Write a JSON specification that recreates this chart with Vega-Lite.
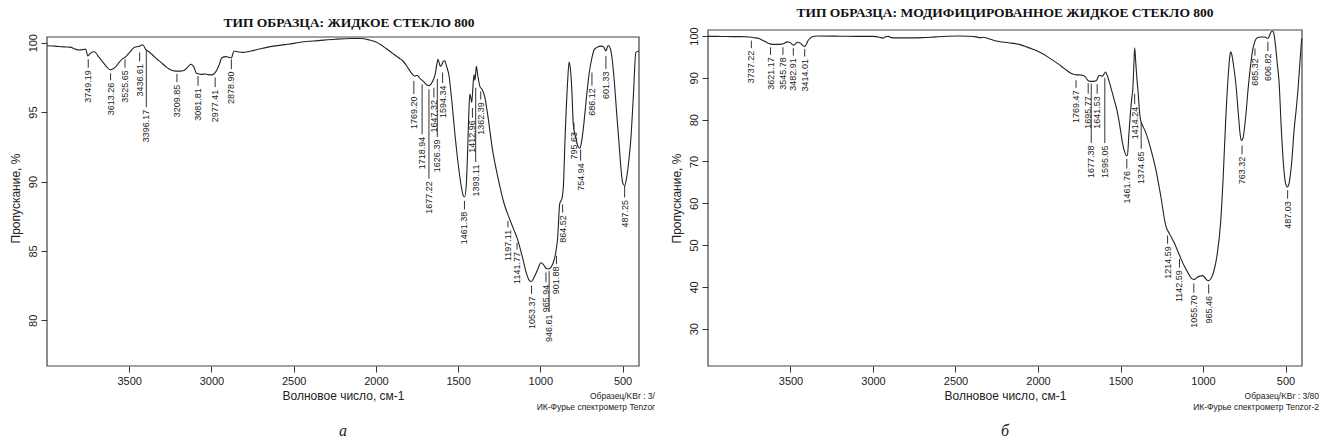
{
  "$schema": "https://vega.github.io/schema/vega-lite/v6.json",
  "background": "white",
  "padding": {"left": 9, "top": 6, "right": 0, "bottom": 0},
  "bounds": "flush",
  "spacing": 69,
  "config": {
    "view": {"stroke": null},
    "font": "Liberation Sans",
    "numberFormat": "d",
    "axis": {"grid": false, "domain": false, "tickColor": "#333", "tickSize": 6, "labelColor": "#222", "titleColor": "#222", "labelFont": "Liberation Sans", "titleFont": "Liberation Sans", "labelFontSize": 11, "titleFontSize": 12, "titleFontWeight": "normal"},
    "axisX": {"labelPadding": 3, "titlePadding": 4},
    "axisY": {"labelAngle": 270, "labelAlign": "center", "labelBaseline": "bottom", "labelPadding": 3, "titlePadding": 5},
    "title": {"font": "Liberation Serif", "fontSize": 13.5, "fontWeight": "bold", "color": "#111", "frame": "group", "anchor": "middle", "baseline": "alphabetic"}
  },
  "datasets": {
    "specA": [
      {"wn":4000,"t":99.78},{"wn":3950,"t":99.75},{"wn":3900,"t":99.7},{"wn":3860,"t":99.68},{"wn":3830,"t":99.55},{"wn":3808,"t":99.47},{"wn":3780,"t":99.5},{"wn":3765,"t":99.55},{"wn":3752,"t":99.05},{"wn":3735,"t":99.25},{"wn":3711,"t":99.35},{"wn":3690,"t":99.05},{"wn":3667,"t":98.7},{"wn":3640,"t":98.3},{"wn":3617,"t":98.05},{"wn":3600,"t":98.1},{"wn":3580,"t":98.3},{"wn":3560,"t":98.6},{"wn":3540,"t":98.85},{"wn":3525,"t":98.95},{"wn":3501,"t":99.25},{"wn":3470,"t":99.66},{"wn":3437,"t":99.75},{"wn":3418,"t":99.85},{"wn":3398,"t":99.5},{"wn":3380,"t":99.35},{"wn":3361,"t":99.15},{"wn":3335,"t":98.85},{"wn":3309,"t":98.6},{"wn":3280,"t":98.3},{"wn":3258,"t":98.1},{"wn":3220,"t":97.95},{"wn":3190,"t":97.95},{"wn":3168,"t":98.0},{"wn":3140,"t":98.3},{"wn":3124,"t":98.45},{"wn":3105,"t":98.2},{"wn":3092,"t":97.8},{"wn":3060,"t":97.72},{"wn":3040,"t":97.75},{"wn":3020,"t":97.7},{"wn":2996,"t":97.68},{"wn":2980,"t":97.8},{"wn":2964,"t":98.1},{"wn":2950,"t":98.5},{"wn":2938,"t":98.9},{"wn":2913,"t":99.0},{"wn":2895,"t":98.95},{"wn":2880,"t":98.9},{"wn":2862,"t":99.4},{"wn":2840,"t":99.35},{"wn":2810,"t":99.3},{"wn":2760,"t":99.4},{"wn":2707,"t":99.55},{"wn":2650,"t":99.7},{"wn":2553,"t":99.86},{"wn":2500,"t":99.95},{"wn":2451,"t":100.05},{"wn":2350,"t":100.15},{"wn":2247,"t":100.25},{"wn":2150,"t":100.3},{"wn":2092,"t":100.3},{"wn":2041,"t":100.2},{"wn":2000,"t":100.05},{"wn":1970,"t":99.85},{"wn":1940,"t":99.6},{"wn":1900,"t":99.25},{"wn":1860,"t":98.9},{"wn":1837,"t":98.7},{"wn":1800,"t":98.1},{"wn":1780,"t":97.75},{"wn":1765,"t":97.6},{"wn":1750,"t":97.65},{"wn":1730,"t":97.4},{"wn":1710,"t":97.2},{"wn":1690,"t":96.95},{"wn":1677,"t":96.9},{"wn":1658,"t":97.15},{"wn":1640,"t":97.7},{"wn":1630,"t":98.4},{"wn":1622,"t":98.8},{"wn":1610,"t":98.35},{"wn":1605,"t":98.3},{"wn":1590,"t":98.65},{"wn":1581,"t":98.7},{"wn":1570,"t":98.3},{"wn":1555,"t":97.6},{"wn":1540,"t":96.0},{"wn":1520,"t":93.5},{"wn":1500,"t":91.3},{"wn":1480,"t":89.6},{"wn":1469,"t":89.0},{"wn":1460,"t":88.9},{"wn":1450,"t":89.8},{"wn":1444,"t":91.5},{"wn":1436,"t":94.5},{"wn":1429,"t":96.3},{"wn":1422,"t":96.0},{"wn":1417,"t":95.7},{"wn":1410,"t":96.8},{"wn":1403,"t":97.7},{"wn":1398,"t":97.3},{"wn":1393,"t":97.8},{"wn":1389,"t":98.3},{"wn":1380,"t":97.6},{"wn":1366,"t":96.8},{"wn":1355,"t":96.65},{"wn":1340,"t":96.2},{"wn":1320,"t":94.8},{"wn":1291,"t":92.3},{"wn":1260,"t":90.4},{"wn":1220,"t":88.4},{"wn":1190,"t":87.4},{"wn":1160,"t":86.5},{"wn":1139,"t":85.85},{"wn":1110,"t":84.6},{"wn":1085,"t":83.4},{"wn":1068,"t":82.9},{"wn":1055,"t":82.8},{"wn":1038,"t":83.1},{"wn":1015,"t":83.7},{"wn":997,"t":84.15},{"wn":980,"t":84.0},{"wn":965,"t":83.75},{"wn":950,"t":83.7},{"wn":937,"t":83.8},{"wn":920,"t":84.2},{"wn":906,"t":84.9},{"wn":895,"t":85.9},{"wn":882,"t":88.4},{"wn":868,"t":88.8},{"wn":860,"t":89.6},{"wn":850,"t":93.0},{"wn":835,"t":97.0},{"wn":825,"t":98.6},{"wn":818,"t":98.2},{"wn":808,"t":96.5},{"wn":800,"t":94.2},{"wn":795,"t":93.7},{"wn":785,"t":93.2},{"wn":770,"t":92.5},{"wn":760,"t":92.4},{"wn":750,"t":92.8},{"wn":735,"t":94.2},{"wn":720,"t":96.0},{"wn":703,"t":97.8},{"wn":690,"t":98.7},{"wn":672,"t":99.5},{"wn":650,"t":99.7},{"wn":630,"t":99.75},{"wn":615,"t":99.7},{"wn":601,"t":99.4},{"wn":595,"t":99.6},{"wn":587,"t":99.8},{"wn":575,"t":99.6},{"wn":564,"t":98.9},{"wn":550,"t":97.2},{"wn":535,"t":94.8},{"wn":523,"t":93.0},{"wn":510,"t":91.0},{"wn":499,"t":89.9},{"wn":487,"t":89.7},{"wn":475,"t":90.3},{"wn":462,"t":91.5},{"wn":450,"t":93.0},{"wn":435,"t":96.0},{"wn":419,"t":99.3},{"wn":400,"t":99.4}
    ],
    "labA": [
      {"wn":3749.19,"lt":98.8,"lb":98.2,"label":"3749.19"},
      {"wn":3613.26,"lt":97.8,"lb":97.3,"label":"3613.26"},
      {"wn":3525.65,"lt":98.8,"lb":98.2,"label":"3525.65"},
      {"wn":3436.61,"lt":99.3,"lb":98.65,"label":"3436.61"},
      {"wn":3396.17,"lt":99.45,"lb":95.35,"label":"3396.17"},
      {"wn":3209.85,"lt":97.75,"lb":97.15,"label":"3209.85"},
      {"wn":3081.81,"lt":97.6,"lb":96.9,"label":"3081.81"},
      {"wn":2977.41,"lt":97.5,"lb":96.8,"label":"2977.41"},
      {"wn":2878.90,"lt":98.8,"lb":98.1,"label":"2878.90"},
      {"wn":1769.20,"lt":97.25,"lb":96.3,"label":"1769.20"},
      {"wn":1718.94,"lt":97.0,"lb":93.4,"label":"1718.94"},
      {"wn":1677.22,"lt":96.65,"lb":90.2,"label":"1677.22"},
      {"wn":1647.32,"lt":96.75,"lb":96.05,"label":"1647.32"},
      {"wn":1626.39,"lt":97.4,"lb":93.2,"label":"1626.39"},
      {"wn":1594.34,"lt":97.85,"lb":97.1,"label":"1594.34"},
      {"wn":1461.38,"lt":88.6,"lb":88.0,"label":"1461.38"},
      {"wn":1412.96,"lt":95.3,"lb":94.6,"label":"1412.96"},
      {"wn":1393.11,"lt":96.75,"lb":91.4,"label":"1393.11"},
      {"wn":1362.39,"lt":96.5,"lb":95.9,"label":"1362.39"},
      {"wn":1197.11,"lt":87.15,"lb":86.7,"label":"1197.11"},
      {"wn":1141.77,"lt":85.6,"lb":85.1,"label":"1141.77"},
      {"wn":1053.37,"lt":82.5,"lb":81.9,"label":"1053.37"},
      {"wn":965.94,"lt":83.45,"lb":82.75,"label":"965.94"},
      {"wn":946.61,"lt":83.55,"lb":80.6,"label":"946.61"},
      {"wn":901.88,"lt":84.65,"lb":84.05,"label":"901.88"},
      {"wn":864.52,"lt":88.35,"lb":87.75,"label":"864.52"},
      {"wn":795.63,"lt":94.25,"lb":93.75,"label":"795.63"},
      {"wn":754.94,"lt":92.3,"lb":91.5,"label":"754.94"},
      {"wn":686.12,"lt":97.85,"lb":96.9,"label":"686.12"},
      {"wn":601.33,"lt":99.05,"lb":98.1,"label":"601.33"},
      {"wn":487.25,"lt":89.7,"lb":88.85,"label":"487.25"}
    ],
    "specB": [
      {"wn":4000,"t":99.9},{"wn":3950,"t":99.92},{"wn":3900,"t":99.88},{"wn":3850,"t":99.85},{"wn":3800,"t":99.85},{"wn":3770,"t":99.8},{"wn":3752,"t":99.75},{"wn":3720,"t":99.6},{"wn":3691,"t":99.4},{"wn":3670,"t":99.0},{"wn":3650,"t":98.6},{"wn":3630,"t":98.2},{"wn":3610,"t":98.0},{"wn":3580,"t":98.0},{"wn":3555,"t":98.05},{"wn":3540,"t":98.2},{"wn":3521,"t":98.6},{"wn":3505,"t":98.5},{"wn":3490,"t":98.0},{"wn":3482,"t":97.8},{"wn":3470,"t":98.1},{"wn":3458,"t":98.5},{"wn":3440,"t":98.3},{"wn":3425,"t":97.7},{"wn":3414,"t":97.5},{"wn":3405,"t":97.9},{"wn":3395,"t":98.8},{"wn":3380,"t":99.5},{"wn":3365,"t":99.9},{"wn":3340,"t":100.0},{"wn":3200,"t":99.95},{"wn":3100,"t":99.9},{"wn":3000,"t":99.9},{"wn":2960,"t":99.7},{"wn":2940,"t":99.5},{"wn":2925,"t":99.8},{"wn":2905,"t":99.9},{"wn":2890,"t":99.6},{"wn":2850,"t":99.55},{"wn":2780,"t":99.55},{"wn":2700,"t":99.6},{"wn":2620,"t":99.8},{"wn":2550,"t":99.95},{"wn":2480,"t":100.0},{"wn":2420,"t":99.95},{"wn":2382,"t":99.85},{"wn":2350,"t":99.6},{"wn":2330,"t":99.7},{"wn":2303,"t":99.4},{"wn":2270,"t":99.0},{"wn":2236,"t":98.7},{"wn":2180,"t":98.4},{"wn":2115,"t":98.0},{"wn":2050,"t":97.1},{"wn":1974,"t":95.8},{"wn":1930,"t":94.7},{"wn":1880,"t":93.4},{"wn":1840,"t":92.2},{"wn":1800,"t":91.1},{"wn":1780,"t":90.8},{"wn":1769,"t":90.7},{"wn":1750,"t":90.7},{"wn":1730,"t":90.6},{"wn":1715,"t":90.3},{"wn":1700,"t":89.5},{"wn":1690,"t":89.2},{"wn":1677,"t":89.15},{"wn":1660,"t":89.2},{"wn":1648,"t":89.3},{"wn":1638,"t":90.0},{"wn":1630,"t":90.6},{"wn":1620,"t":90.5},{"wn":1610,"t":90.4},{"wn":1598,"t":91.0},{"wn":1590,"t":91.4},{"wn":1580,"t":90.5},{"wn":1562,"t":88.2},{"wn":1540,"t":85.0},{"wn":1519,"t":81.8},{"wn":1500,"t":77.5},{"wn":1489,"t":74.6},{"wn":1475,"t":72.3},{"wn":1465,"t":71.4},{"wn":1458,"t":71.5},{"wn":1449,"t":76.6},{"wn":1440,"t":81.5},{"wn":1432,"t":85.0},{"wn":1425,"t":87.5},{"wn":1420,"t":92.0},{"wn":1414,"t":97.2},{"wn":1408,"t":94.0},{"wn":1400,"t":89.5},{"wn":1393,"t":86.5},{"wn":1385,"t":82.0},{"wn":1378,"t":79.8},{"wn":1365,"t":78.5},{"wn":1348,"t":77.0},{"wn":1320,"t":73.5},{"wn":1287,"t":68.3},{"wn":1255,"t":61.5},{"wn":1226,"t":54.7},{"wn":1200,"t":52.5},{"wn":1175,"t":50.6},{"wn":1145,"t":47.8},{"wn":1115,"t":45.1},{"wn":1090,"t":43.3},{"wn":1065,"t":41.9},{"wn":1050,"t":41.8},{"wn":1035,"t":42.3},{"wn":1015,"t":42.6},{"wn":1004,"t":42.7},{"wn":990,"t":42.3},{"wn":975,"t":41.6},{"wn":965,"t":41.5},{"wn":950,"t":42.1},{"wn":934,"t":43.8},{"wn":915,"t":47.5},{"wn":893,"t":55.5},{"wn":878,"t":66.0},{"wn":863,"t":79.4},{"wn":848,"t":90.0},{"wn":838,"t":95.0},{"wn":832,"t":96.2},{"wn":825,"t":95.5},{"wn":815,"t":93.0},{"wn":802,"t":89.0},{"wn":785,"t":81.0},{"wn":775,"t":76.5},{"wn":768,"t":75.0},{"wn":758,"t":75.5},{"wn":750,"t":77.5},{"wn":741,"t":80.8},{"wn":725,"t":88.0},{"wn":710,"t":93.5},{"wn":701,"t":96.2},{"wn":690,"t":98.2},{"wn":671,"t":99.6},{"wn":650,"t":99.75},{"wn":630,"t":99.75},{"wn":620,"t":99.7},{"wn":607,"t":99.4},{"wn":598,"t":100.0},{"wn":590,"t":100.8},{"wn":578,"t":101.2},{"wn":570,"t":100.5},{"wn":560,"t":97.5},{"wn":550,"t":93.5},{"wn":539,"t":89.0},{"wn":525,"t":77.5},{"wn":510,"t":68.2},{"wn":500,"t":64.8},{"wn":489,"t":63.9},{"wn":478,"t":64.8},{"wn":470,"t":67.0},{"wn":462,"t":70.0},{"wn":448,"t":77.5},{"wn":435,"t":82.5},{"wn":424,"t":87.4},{"wn":412,"t":94.0},{"wn":402,"t":99.4}
    ],
    "labB": [
      {"wn":3737.22,"lt":98.9,"lb":97.1,"label":"3737.22"},
      {"wn":3621.17,"lt":97.3,"lb":95.5,"label":"3621.17"},
      {"wn":3545.78,"lt":97.3,"lb":95.5,"label":"3545.78"},
      {"wn":3482.91,"lt":97.1,"lb":95.3,"label":"3482.91"},
      {"wn":3414.01,"lt":96.9,"lb":95.1,"label":"3414.01"},
      {"wn":1769.47,"lt":89.4,"lb":87.6,"label":"1769.47"},
      {"wn":1695.77,"lt":88.7,"lb":86.2,"label":"1695.77"},
      {"wn":1677.38,"lt":88.6,"lb":74.4,"label":"1677.38"},
      {"wn":1641.53,"lt":88.5,"lb":86.2,"label":"1641.53"},
      {"wn":1595.05,"lt":90.0,"lb":74.4,"label":"1595.05"},
      {"wn":1461.76,"lt":70.6,"lb":68.3,"label":"1461.76"},
      {"wn":1414.24,"lt":86.2,"lb":83.7,"label":"1414.24"},
      {"wn":1374.65,"lt":79.4,"lb":73.0,"label":"1374.65"},
      {"wn":1214.59,"lt":52.3,"lb":50.3,"label":"1214.59"},
      {"wn":1142.59,"lt":46.7,"lb":44.6,"label":"1142.59"},
      {"wn":1055.70,"lt":40.8,"lb":38.6,"label":"1055.70"},
      {"wn":965.46,"lt":40.6,"lb":38.4,"label":"965.46"},
      {"wn":763.32,"lt":73.8,"lb":71.7,"label":"763.32"},
      {"wn":685.32,"lt":97.0,"lb":95.3,"label":"685.32"},
      {"wn":606.82,"lt":98.6,"lb":96.4,"label":"606.82"},
      {"wn":487.03,"lt":63.1,"lb":61.1,"label":"487.03"}
    ]
  },
  "hconcat": [
    {
      "width": 592,
      "height": 336,
      "title": {"text": "ТИП ОБРАЗЦА: ЖИДКОЕ СТЕКЛО 800", "offset": 1, "dx": 6},
      "layer": [
        {
          "data": {"values": [{}]},
          "mark": {"type": "rect", "fillOpacity": 0, "stroke": "#444", "strokeWidth": 1.2},
          "encoding": {
            "x": {"datum": 4000, "type": "quantitative", "scale": {"domain": [400, 4000], "reverse": true, "nice": false, "zero": false}, "axis": {"values": [500, 1000, 1500, 2000, 2500, 3000, 3500], "title": "Волновое число, см-1"}},
            "x2": {"datum": 400},
            "y": {"datum": 100.41, "type": "quantitative", "scale": {"domain": [76.71, 100.915], "nice": false, "zero": false}, "axis": {"values": [80, 85, 90, 95, 100], "title": "Пропускание, %"}},
            "y2": {"datum": 76.71}
          }
        },
        {
          "data": {"name": "specA"},
          "mark": {"type": "line", "color": "#222", "strokeWidth": 1.1, "interpolate": "monotone"},
          "encoding": {
            "x": {"field": "wn", "type": "quantitative", "scale": {"domain": [400, 4000], "reverse": true, "nice": false, "zero": false}, "axis": {"values": [500, 1000, 1500, 2000, 2500, 3000, 3500], "title": "Волновое число, см-1"}},
            "y": {"field": "t", "type": "quantitative", "scale": {"domain": [76.71, 100.915], "nice": false, "zero": false}, "axis": {"values": [80, 85, 90, 95, 100], "title": "Пропускание, %"}}
          }
        },
        {
          "data": {"name": "labA"},
          "mark": {"type": "rule", "color": "#333", "strokeWidth": 1},
          "encoding": {
            "x": {"field": "wn", "type": "quantitative", "scale": {"domain": [400, 4000], "reverse": true, "nice": false, "zero": false}, "axis": {"values": [500, 1000, 1500, 2000, 2500, 3000, 3500], "title": "Волновое число, см-1"}},
            "y": {"field": "lt", "type": "quantitative", "scale": {"domain": [76.71, 100.915], "nice": false, "zero": false}, "axis": {"values": [80, 85, 90, 95, 100], "title": "Пропускание, %"}},
            "y2": {"field": "lb"}
          }
        },
        {
          "data": {"name": "labA"},
          "mark": {"type": "text", "angle": 270, "align": "right", "baseline": "middle", "dx": -2.5, "fontSize": 9, "color": "#222"},
          "encoding": {
            "x": {"field": "wn", "type": "quantitative", "scale": {"domain": [400, 4000], "reverse": true, "nice": false, "zero": false}, "axis": {"values": [500, 1000, 1500, 2000, 2500, 3000, 3500], "title": "Волновое число, см-1"}},
            "y": {"field": "lb", "type": "quantitative", "scale": {"domain": [76.71, 100.915], "nice": false, "zero": false}, "axis": {"values": [80, 85, 90, 95, 100], "title": "Пропускание, %"}},
            "text": {"field": "label"}
          }
        },
        {
          "data": {"values": [{}]},
          "mark": {"type": "text", "text": "Образец/KBr : 3/", "align": "right", "baseline": "middle", "fontSize": 8.5, "color": "#222"},
          "encoding": {
            "x": {"datum": 303, "type": "quantitative", "scale": {"domain": [400, 4000], "reverse": true, "nice": false, "zero": false}, "axis": {"values": [500, 1000, 1500, 2000, 2500, 3000, 3500], "title": "Волновое число, см-1"}},
            "y": {"datum": 74.55, "type": "quantitative", "scale": {"domain": [76.71, 100.915], "nice": false, "zero": false}, "axis": {"values": [80, 85, 90, 95, 100], "title": "Пропускание, %"}}
          }
        },
        {
          "data": {"values": [{}]},
          "mark": {"type": "text", "text": "ИК-Фурье спектрометр Tenzor", "align": "right", "baseline": "middle", "fontSize": 8.5, "color": "#222"},
          "encoding": {
            "x": {"datum": 303, "type": "quantitative", "scale": {"domain": [400, 4000], "reverse": true, "nice": false, "zero": false}, "axis": {"values": [500, 1000, 1500, 2000, 2500, 3000, 3500], "title": "Волновое число, см-1"}},
            "y": {"datum": 73.75, "type": "quantitative", "scale": {"domain": [76.71, 100.915], "nice": false, "zero": false}, "axis": {"values": [80, 85, 90, 95, 100], "title": "Пропускание, %"}}
          }
        },
        {
          "data": {"values": [{}]},
          "mark": {"type": "text", "text": "а", "align": "center", "baseline": "alphabetic", "font": "Liberation Serif", "fontStyle": "italic", "fontSize": 16, "color": "#222"},
          "encoding": {
            "x": {"datum": 2200, "type": "quantitative", "scale": {"domain": [400, 4000], "reverse": true, "nice": false, "zero": false}, "axis": {"values": [500, 1000, 1500, 2000, 2500, 3000, 3500], "title": "Волновое число, см-1"}},
            "y": {"datum": 71.66, "type": "quantitative", "scale": {"domain": [76.71, 100.915], "nice": false, "zero": false}, "axis": {"values": [80, 85, 90, 95, 100], "title": "Пропускание, %"}}
          }
        }
      ]
    },
    {
      "width": 594,
      "height": 336,
      "title": {"text": "ТИП ОБРАЗЦА: МОДИФИЦИРОВАННОЕ ЖИДКОЕ СТЕКЛО 800", "offset": 7},
      "layer": [
        {
          "data": {"values": [{}]},
          "mark": {"type": "rect", "fillOpacity": 0, "stroke": "#444", "strokeWidth": 1.2},
          "encoding": {
            "x": {"datum": 4000, "type": "quantitative", "scale": {"domain": [400, 4000], "reverse": true, "nice": false, "zero": false}, "axis": {"values": [500, 1000, 1500, 2000, 2500, 3000, 3500], "title": "Волновое число, см-1"}},
            "x2": {"datum": 400},
            "y": {"datum": 101.435, "type": "quantitative", "scale": {"domain": [21.08, 101.435], "nice": false, "zero": false}, "axis": {"values": [30, 40, 50, 60, 70, 80, 90, 100], "title": "Пропускание, %"}},
            "y2": {"datum": 21.08}
          }
        },
        {
          "data": {"name": "specB"},
          "mark": {"type": "line", "color": "#222", "strokeWidth": 1.1, "interpolate": "monotone"},
          "encoding": {
            "x": {"field": "wn", "type": "quantitative", "scale": {"domain": [400, 4000], "reverse": true, "nice": false, "zero": false}, "axis": {"values": [500, 1000, 1500, 2000, 2500, 3000, 3500], "title": "Волновое число, см-1"}},
            "y": {"field": "t", "type": "quantitative", "scale": {"domain": [21.08, 101.435], "nice": false, "zero": false}, "axis": {"values": [30, 40, 50, 60, 70, 80, 90, 100], "title": "Пропускание, %"}}
          }
        },
        {
          "data": {"name": "labB"},
          "mark": {"type": "rule", "color": "#333", "strokeWidth": 1},
          "encoding": {
            "x": {"field": "wn", "type": "quantitative", "scale": {"domain": [400, 4000], "reverse": true, "nice": false, "zero": false}, "axis": {"values": [500, 1000, 1500, 2000, 2500, 3000, 3500], "title": "Волновое число, см-1"}},
            "y": {"field": "lt", "type": "quantitative", "scale": {"domain": [21.08, 101.435], "nice": false, "zero": false}, "axis": {"values": [30, 40, 50, 60, 70, 80, 90, 100], "title": "Пропускание, %"}},
            "y2": {"field": "lb"}
          }
        },
        {
          "data": {"name": "labB"},
          "mark": {"type": "text", "angle": 270, "align": "right", "baseline": "middle", "dx": -2.5, "fontSize": 9, "color": "#222"},
          "encoding": {
            "x": {"field": "wn", "type": "quantitative", "scale": {"domain": [400, 4000], "reverse": true, "nice": false, "zero": false}, "axis": {"values": [500, 1000, 1500, 2000, 2500, 3000, 3500], "title": "Волновое число, см-1"}},
            "y": {"field": "lb", "type": "quantitative", "scale": {"domain": [21.08, 101.435], "nice": false, "zero": false}, "axis": {"values": [30, 40, 50, 60, 70, 80, 90, 100], "title": "Пропускание, %"}},
            "text": {"field": "label"}
          }
        },
        {
          "data": {"values": [{}]},
          "mark": {"type": "text", "text": "Образец/KBr : 3/80", "align": "right", "baseline": "middle", "fontSize": 8.5, "color": "#222"},
          "encoding": {
            "x": {"datum": 297, "type": "quantitative", "scale": {"domain": [400, 4000], "reverse": true, "nice": false, "zero": false}, "axis": {"values": [500, 1000, 1500, 2000, 2500, 3000, 3500], "title": "Волновое число, см-1"}},
            "y": {"datum": 13.9, "type": "quantitative", "scale": {"domain": [21.08, 101.435], "nice": false, "zero": false}, "axis": {"values": [30, 40, 50, 60, 70, 80, 90, 100], "title": "Пропускание, %"}}
          }
        },
        {
          "data": {"values": [{}]},
          "mark": {"type": "text", "text": "ИК-Фурье спектрометр Tenzor-2", "align": "right", "baseline": "middle", "fontSize": 8.5, "color": "#222"},
          "encoding": {
            "x": {"datum": 297, "type": "quantitative", "scale": {"domain": [400, 4000], "reverse": true, "nice": false, "zero": false}, "axis": {"values": [500, 1000, 1500, 2000, 2500, 3000, 3500], "title": "Волновое число, см-1"}},
            "y": {"datum": 11.26, "type": "quantitative", "scale": {"domain": [21.08, 101.435], "nice": false, "zero": false}, "axis": {"values": [30, 40, 50, 60, 70, 80, 90, 100], "title": "Пропускание, %"}}
          }
        },
        {
          "data": {"values": [{}]},
          "mark": {"type": "text", "text": "б", "align": "center", "baseline": "alphabetic", "font": "Liberation Serif", "fontStyle": "italic", "fontSize": 16, "color": "#222"},
          "encoding": {
            "x": {"datum": 2200, "type": "quantitative", "scale": {"domain": [400, 4000], "reverse": true, "nice": false, "zero": false}, "axis": {"values": [500, 1000, 1500, 2000, 2500, 3000, 3500], "title": "Волновое число, см-1"}},
            "y": {"datum": 4.33, "type": "quantitative", "scale": {"domain": [21.08, 101.435], "nice": false, "zero": false}, "axis": {"values": [30, 40, 50, 60, 70, 80, 90, 100], "title": "Пропускание, %"}}
          }
        }
      ]
    }
  ]
}
